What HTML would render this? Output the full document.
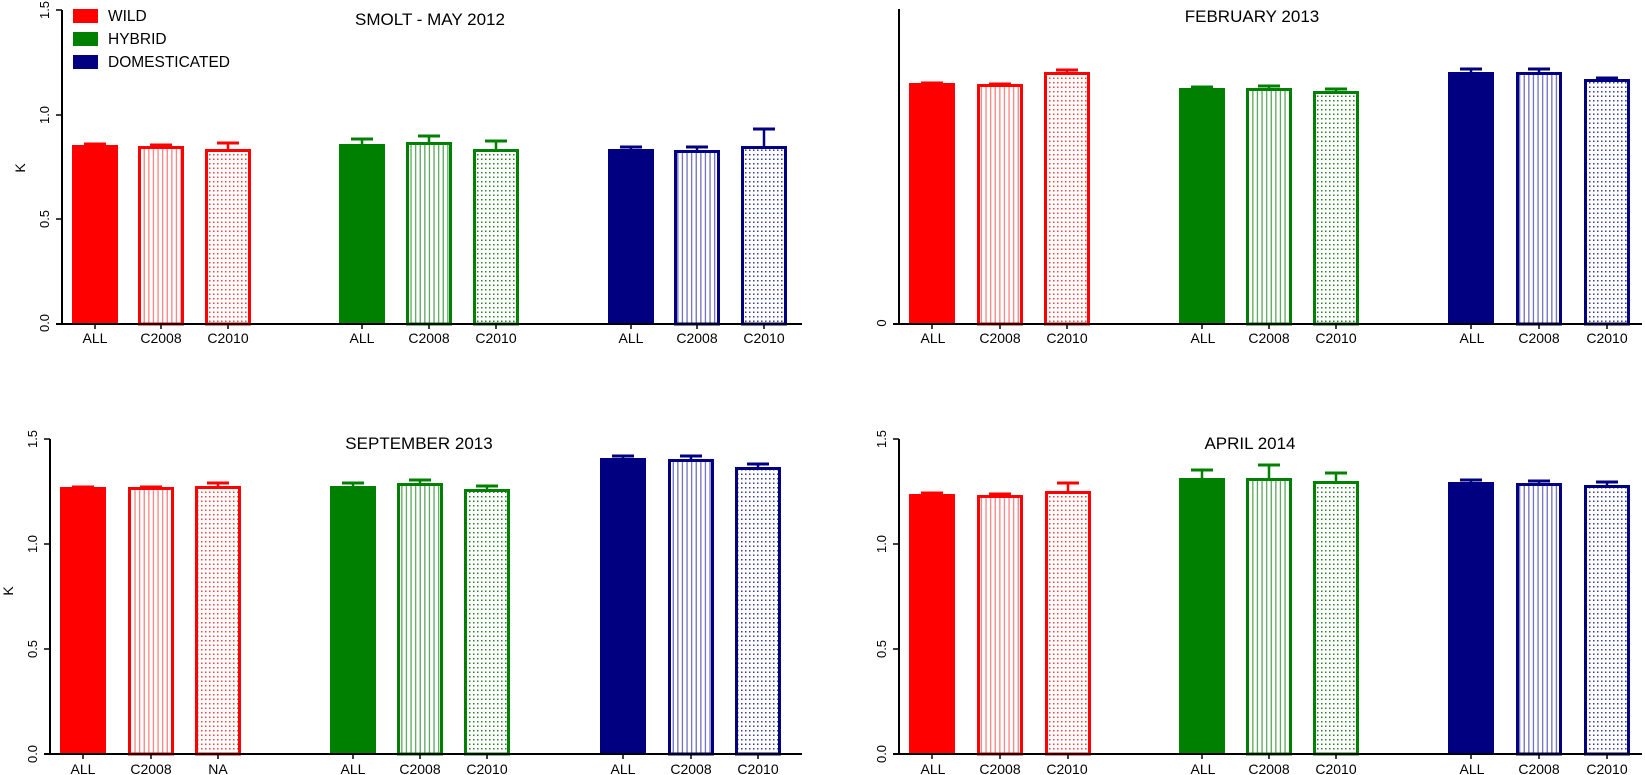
<!DOCTYPE html>
<html><head><meta charset="utf-8"><style>
html,body{margin:0;padding:0;background:#fff;}
svg{display:block;font-family:"Liberation Sans",sans-serif;}
</style></head><body>
<svg id="s" width="1645" height="775" viewBox="0 0 1645 775" xmlns="http://www.w3.org/2000/svg">
<defs>
<pattern id="vr" width="4.6" height="10" patternUnits="userSpaceOnUse"><rect x="1" y="0" width="1.3" height="10" fill="#ff8080"/></pattern>
<pattern id="vg" width="4.6" height="10" patternUnits="userSpaceOnUse"><rect x="1" y="0" width="1.3" height="10" fill="#5aa85a"/></pattern>
<pattern id="vb" width="4.6" height="10" patternUnits="userSpaceOnUse"><rect x="1" y="0" width="1.3" height="10" fill="#7070c0"/></pattern>
<pattern id="dr" width="4" height="4.5" patternUnits="userSpaceOnUse"><rect x="1" y="1" width="1.5" height="1.5" fill="#ff4040"/></pattern>
<pattern id="dg" width="4" height="4.5" patternUnits="userSpaceOnUse"><rect x="1" y="1" width="1.5" height="1.5" fill="#2a802a"/></pattern>
<pattern id="db" width="4" height="4.5" patternUnits="userSpaceOnUse"><rect x="1" y="1" width="1.5" height="1.5" fill="#3a3a98"/></pattern>
</defs>
<g id="bars"></g>
<g fill="#000" font-size="17" text-anchor="middle">
<text x="430" y="25">SMOLT - MAY 2012</text>
<text x="1252" y="22">FEBRUARY 2013</text>
<text x="419" y="449">SEPTEMBER 2013</text>
<text x="1250" y="449">APRIL 2014</text>
</g>
<g font-size="15.5" fill="#000">
<rect x="73" y="9" width="25" height="14" fill="#ff0000"/><text x="108" y="21">WILD</text>
<rect x="73" y="32" width="25" height="14" fill="#008000"/><text x="108" y="44">HYBRID</text>
<rect x="73" y="55" width="25" height="14" fill="#000080"/><text x="108" y="67">DOMESTICATED</text>
</g>
<g font-size="14" fill="#000">
<text transform="translate(25,168) rotate(-90)" text-anchor="middle">K</text>
<text transform="translate(13,591) rotate(-90)" text-anchor="middle">K</text>
</g>
<g font-size="13" fill="#000" text-anchor="middle">
<text transform="translate(49,323) rotate(-90)">0.0</text>
<text transform="translate(49,219) rotate(-90)">0.5</text>
<text transform="translate(49,115) rotate(-90)">1.0</text>
<text transform="translate(49,10) rotate(-90)">1.5</text>
<text transform="translate(886,323) rotate(-90)">0</text>
<text transform="translate(37,754) rotate(-90)">0.0</text>
<text transform="translate(37,649) rotate(-90)">0.5</text>
<text transform="translate(37,544) rotate(-90)">1.0</text>
<text transform="translate(37,439) rotate(-90)">1.5</text>
<text transform="translate(886,754) rotate(-90)">0.0</text>
<text transform="translate(886,649) rotate(-90)">0.5</text>
<text transform="translate(886,544) rotate(-90)">1.0</text>
<text transform="translate(886,439) rotate(-90)">1.5</text>
</g>
<g font-size="14" fill="#000" text-anchor="middle">
<text x="95" y="343">ALL</text><text x="161" y="343">C2008</text><text x="228" y="343">C2010</text>
<text x="362" y="343">ALL</text><text x="429" y="343">C2008</text><text x="496" y="343">C2010</text>
<text x="631" y="343">ALL</text><text x="697" y="343">C2008</text><text x="764" y="343">C2010</text>
<text x="933" y="343">ALL</text><text x="1000" y="343">C2008</text><text x="1067" y="343">C2010</text>
<text x="1203" y="343">ALL</text><text x="1269" y="343">C2008</text><text x="1336" y="343">C2010</text>
<text x="1472" y="343">ALL</text><text x="1539" y="343">C2008</text><text x="1607" y="343">C2010</text>
<text x="83" y="774">ALL</text><text x="151" y="774">C2008</text><text x="218" y="774">NA</text>
<text x="353" y="774">ALL</text><text x="420" y="774">C2008</text><text x="487" y="774">C2010</text>
<text x="623" y="774">ALL</text><text x="691" y="774">C2008</text><text x="758" y="774">C2010</text>
<text x="933" y="774">ALL</text><text x="1000" y="774">C2008</text><text x="1067" y="774">C2010</text>
<text x="1203" y="774">ALL</text><text x="1269" y="774">C2008</text><text x="1336" y="774">C2010</text>
<text x="1472" y="774">ALL</text><text x="1539" y="774">C2008</text><text x="1607" y="774">C2010</text>
</g>
</svg>
<script>
var NS="http://www.w3.org/2000/svg",g=document.getElementById("bars");
function el(t,a){var e=document.createElementNS(NS,t);for(var k in a)e.setAttribute(k,a[k]);g.appendChild(e);}
var cols=["#ff0000","#008000","#000080"],vp=["vr","vg","vb"],dp=["dr","dg","db"];
var P=[
 {ax:62,top:10,bot:324,xe:802,ty:[10,115,219,324],xs:[72,138,205,339,406,473,608,674,741],
  t:[145,146,149,144,142,149,149,150,146],e:[143,144,142,138,135,140,146,146,128]},
 {ax:899,top:9,bot:324,xe:1642,ty:[324],xs:[909,977,1044,1179,1246,1313,1448,1516,1584],
  t:[83,84,72,88,88,91,72,72,79],e:[82,83,69,86,85,88,68,68,77]},
 {ax:50,top:439,bot:754,xe:802,ty:[439,544,649,754],xs:[60,128,195,330,397,464,600,668,735],
  t:[487,487,486,486,483,489,458,459,467],e:[486,486,482,482,479,485,455,455,463]},
 {ax:899,top:439,bot:754,xe:1642,ty:[439,544,649,754],xs:[909,977,1045,1179,1246,1313,1448,1516,1584],
  t:[494,495,491,478,478,481,482,483,485],e:[492,493,482,469,464,472,479,480,481]}
];
P.forEach(function(p){
 p.xs.forEach(function(x,i){
  var c=cols[Math.floor(i/3)],k=i%3,w=46,y=p.t[i],h=p.bot-y;
  var cx=x+w/2;
  el("line",{x1:cx,y1:y,x2:cx,y2:p.e[i],stroke:c,"stroke-width":2.5});
  el("line",{x1:cx-11,y1:p.e[i]+1,x2:cx+11,y2:p.e[i]+1,stroke:c,"stroke-width":3});
  if(k==0){el("rect",{x:x,y:y,width:w,height:h,fill:c});}
  else{
   el("rect",{x:x+1.5,y:y+1.5,width:w-3,height:h-1.5,fill:"url(#"+(k==1?vp:dp)[Math.floor(i/3)]+")",stroke:c,"stroke-width":3});
  }
  el("line",{x1:cx,y1:p.bot,x2:cx,y2:p.bot+5,stroke:"#000","stroke-width":1.5});
 });
 el("line",{x1:p.ax,y1:p.top,x2:p.ax,y2:p.bot,stroke:"#000","stroke-width":2});
 el("line",{x1:p.ax-6,y1:p.bot,x2:p.xe,y2:p.bot,stroke:"#000","stroke-width":2});
 p.ty.forEach(function(y){el("line",{x1:p.ax-6,y1:y,x2:p.ax,y2:y,stroke:"#000","stroke-width":1.5});});
});
</script>
</body></html>
